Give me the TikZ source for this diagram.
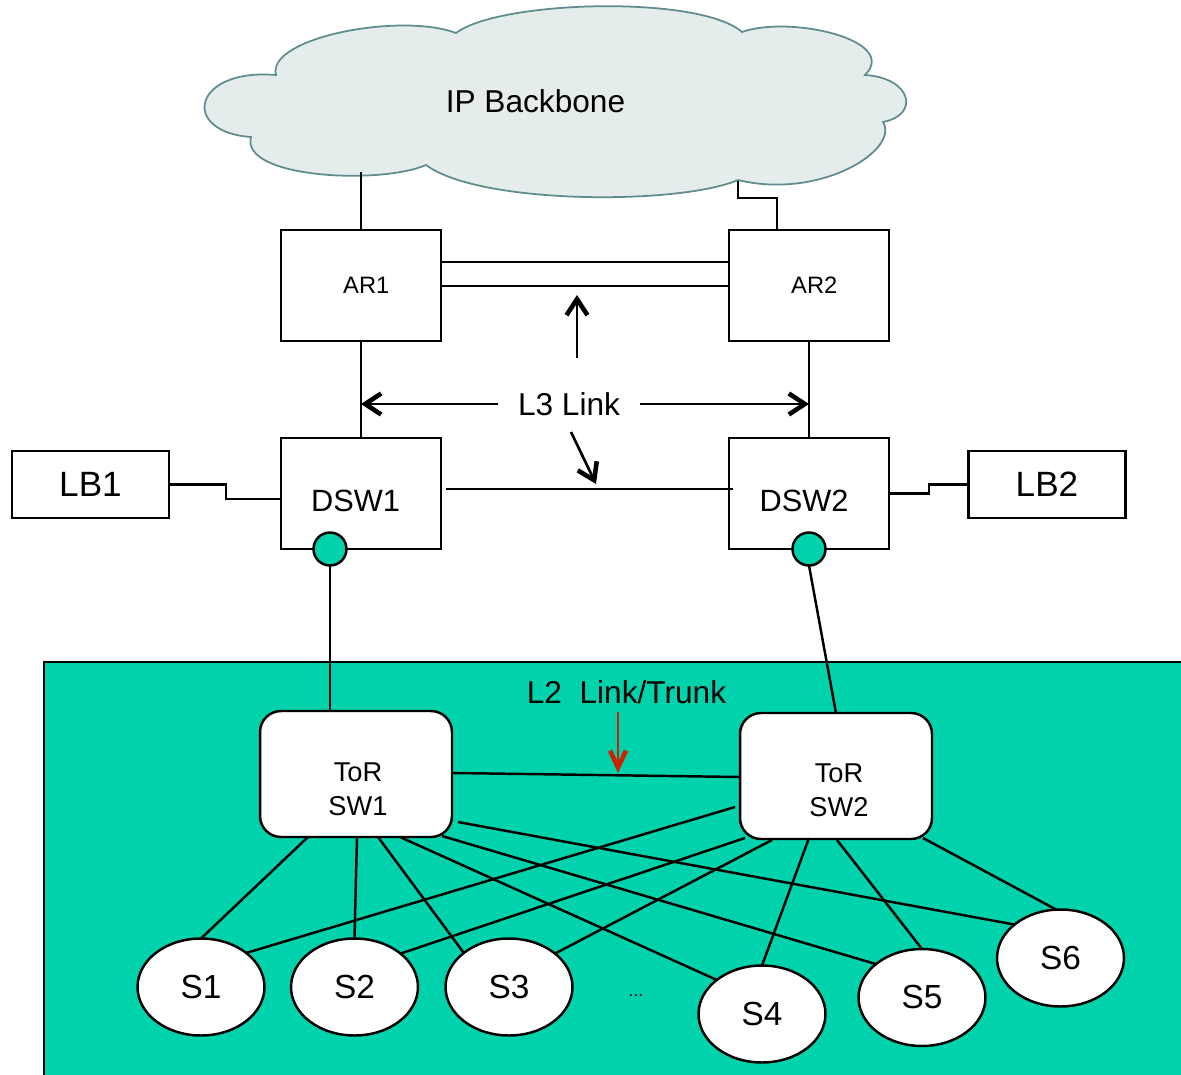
\documentclass[tikz,border=0pt]{standalone}
\usepackage{fontspec}
\setmainfont{Liberation Sans}
\usetikzlibrary{arrows.meta,shapes.geometric}
\definecolor{tealfill}{RGB}{0,210,172}
\definecolor{cloudfill}{RGB}{229,236,236}
\definecolor{cloudline}{RGB}{95,140,142}
\definecolor{arrred}{RGB}{204,34,0}
\begin{document}
\begin{tikzpicture}[x=0.02cm,y=-0.02cm,
  every node/.style={inner sep=0pt, outer sep=0pt},
  wire/.style={line width=1.4pt},
  sqbox/.style={draw, line width=1.4pt, fill=white, minimum width=3.2cm, minimum height=2.22cm, font=\fontsize{13.5}{16}\selectfont},
  lbbox/.style={draw, line width=1.4pt, fill=white, minimum width=3.14cm, minimum height=1.34cm, font=\fontsize{20}{24}\selectfont},
  torbox/.style={draw, line width=1.4pt, fill=white, rounded corners=0.42cm, minimum width=3.84cm, minimum height=2.52cm},
  srv/.style={draw, ellipse, line width=1.4pt, fill=white, minimum width=2.54cm, minimum height=1.94cm, font=\fontsize{19}{23}\selectfont},
  port/.style={draw, circle, line width=1.4pt, fill=tealfill, minimum size=0.66cm},
  big/.style={font=\fontsize{18}{21.6}\selectfont},
  dswtext/.style={font=\fontsize{17.5}{21}\selectfont},
  tortext/.style={font=\fontsize{15.5}{19.3}\selectfont, align=center},
  barb/.style={-{Straight Barb[length=0.32cm,width=0.42cm,line width=2.6pt]}, line width=1.5pt},
  redbarb/.style={-{Straight Barb[length=0.34cm,width=0.32cm,line width=2.6pt]}, line width=1.4pt, draw=arrred},
]
\useasboundingbox (0,0) rectangle (1181,1075);

% L2 region
\fill[tealfill] (44,662) rectangle (1181,1075);
\draw[line width=1.4pt] (1181,662) -- (44,662) -- (44,1075);

% cloud
\draw[fill=cloudfill, draw=cloudline, line width=1pt]
  (276,75) .. controls (266,38) and (400,12) .. (456,33)
  .. controls (500,0) and (700,-5) .. (742,32)
  .. controls (790,15) and (900,40) .. (865,75)
  .. controls (912,78) and (920,115) .. (883,122)
  .. controls (900,150) and (820,200) .. (738,180)
  .. controls (680,205) and (480,205) .. (426,165)
  .. controls (380,185) and (240,178) .. (251,137)
  .. controls (180,132) and (192,68) .. cycle;
\node[big] (ipb) at (535.5,101.5) {IP Backbone};

% boxes
\node[sqbox] (ar1) at (361,285.5) {\hspace*{6pt}AR1};
\node[sqbox] (ar2) at (809,285.5) {\hspace*{6pt}AR2};
\node[sqbox] (dsw1) at (361,493.5) {};
\node[sqbox] (dsw2) at (809,493.5) {};
\node[dswtext] (dsw1t) at (355.5,501) {DSW1};
\node[dswtext] (dsw2t) at (804,501) {DSW2};
\node[lbbox] (lb1) at (90.5,484.5) {LB1};
\node[lbbox] (lb2) at (1047,484.5) {LB2};
\node[port] (c1) at (330,549) {};
\node[port] (c2) at (809,549) {};

\node[torbox] (tor1) at (356,774) {};
\node[torbox] (tor2) at (836,776) {};
\node[tortext] (tor1t) at (358,789) {ToR\\SW1};
\node[tortext] (tor2t) at (839,790) {ToR\\SW2};

\node[srv] (s1) at (201,987) {S1};
\node[srv] (s2) at (354.5,987) {S2};
\node[srv] (s3) at (509,987) {S3};
\node[srv] (s4) at (762,1014) {S4};
\node[srv] (s5) at (922,997.5) {S5};
\node[srv] (s6) at (1060.5,958) {S6};
\node[font=\fontsize{10}{12}\selectfont] (dots) at (636,996) {...};

% cloud links
\coordinate (cl1) at (361,172);
\coordinate (cl2) at (738,181);
\coordinate (j3) at (777,198);
\draw[wire] (cl1) -- (ar1.north);
\draw[wire] (cl2) |- (j3) -- (j3 |- ar2.north);

% AR double link
\draw[wire] ([shift={(0,-23.5)}]ar1.east) -- ([shift={(0,-23.5)}]ar2.west);
\draw[wire] ([shift={(0,0.5)}]ar1.east) -- ([shift={(0,0.5)}]ar2.west);

% AR to DSW
\draw[wire] (ar1.south) -- (dsw1.north);
\draw[wire] (ar2.south) -- (dsw2.north);

% DSW link
\draw[wire] ([shift={(5,-4.5)}]dsw1.east) -- ([shift={(4,-4.5)}]dsw2.west);

% L3 label and arrows
\node[big, inner xsep=0.4cm] (l3) at (569,404) {L3 Link};
\draw[barb] (l3.west) -- (ar1.south |- l3.west);
\draw[barb] (l3.east) -- (ar2.south |- l3.east);
\coordinate (u1) at (577,358);
\coordinate (u2) at (577,295);
\draw[barb] (u1) -- (u2);
\coordinate (d1) at (571,432);
\coordinate (d2) at (596,484);
\draw[barb] (d1) -- (d2);

% LB links
\coordinate (j1) at (226,499);
\draw[wire] (lb1.east) -| (j1) -- (dsw1.west |- j1);
\coordinate (j2) at (929,484.5);
\draw[wire] (dsw2.east) -| (j2) -- (lb2.west);

% DSW ports to ToR
\draw[wire] (c1.south) -- (c1.south |- tor1.north);
\draw[wire] (c2.south) -- (tor2.north);

% L2 link
\node[big] (l2) at (626.5,692.5) {L2\ \ Link/Trunk};
\draw[wire] ([shift={(1,-1)}]tor1.east) -- ([shift={(0,1)}]tor2.west);
\coordinate (r1) at (618,712);
\coordinate (r2) at (618,773);
\draw[redbarb] (r1) -- (r2);

% server links
\draw[wire] ([shift={(-48,0)}]tor1.south) -- (s1.90);
\draw[wire] ([shift={(1,0)}]tor1.south) -- (s2.90);
\draw[wire] ([shift={(22,0)}]tor1.south) -- (s3.143);
\draw[wire] ([shift={(44,0)}]tor1.south) -- (s4.143);
\draw[wire] ([shift={(86,-1)}]tor1.south) -- (s5.144);
\draw[wire] ([shift={(6,48)}]tor1.east) -- (s6.144);
\draw[wire] ([shift={(-5,31)}]tor2.west) -- (s1.37);
\draw[wire] ([shift={(-91,-1)}]tor2.south) -- (s2.36);
\draw[wire] ([shift={(-64,1)}]tor2.south) -- (s3.36);
\draw[wire] ([shift={(-27,-1)}]tor2.south) -- (s4.90);
\draw[wire] ([shift={(1,1)}]tor2.south) -- (s5.90);
\draw[wire] ([shift={(87,-1)}]tor2.south) -- (s6.95);
\end{tikzpicture}
\end{document}
